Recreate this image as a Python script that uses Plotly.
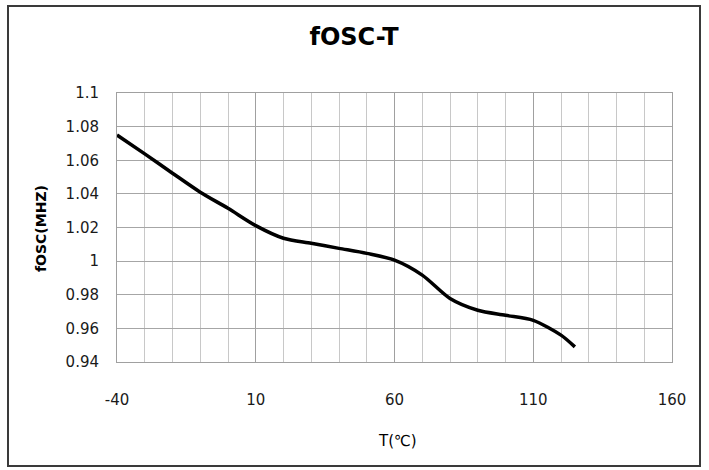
import plotly.graph_objects as go

# Data
temperature = [-40, -30, -20, -10, 0, 10, 20, 30, 40, 50, 60, 70, 80, 90, 100, 110, 120, 125]
fosc_mhz = [1.075, 1.0638, 1.0523, 1.041, 1.0314, 1.0211, 1.0136, 1.0106, 1.0076, 1.0046,
            1.0006, 0.9917, 0.9778, 0.9708, 0.9678, 0.9648, 0.956, 0.949]

x_tick_vals = [-40, 10, 60, 110, 160]
x_tick_text = ["-40", "10", "60", "110", "160"]
y_tick_vals = [0.94, 0.96, 0.98, 1.0, 1.02, 1.04, 1.06, 1.08, 1.1]
y_tick_text = ["0.94", "0.96", "0.98", "1", "1.02", "1.04", "1.06", "1.08", "1.1"]

W, H = 709, 470
L, R, T, B = 117, 37, 93, 108
pw, ph = W - L - R, H - T - B

def px_x(p):
    return (p - L) / pw

def px_y(p):
    return (H - B - p) / ph

fig = go.Figure()
fig.add_trace(go.Scatter(
    x=temperature, y=fosc_mhz, mode="lines",
    line=dict(color="black", width=3.5, shape="spline", smoothing=0.8),
    showlegend=False, hoverinfo="x+y",
))

tick_font = dict(family="DejaVu Sans", size=15, color="#1a1a1a")

fig.update_layout(
    width=W, height=H,
    margin=dict(l=L, r=R, t=T, b=B),
    paper_bgcolor="white", plot_bgcolor="white",
    title=dict(text="fOSC-T", x=354 / W, xref="container", xanchor="center",
               y=1 - 37 / H, yref="container", yanchor="middle",
               font=dict(family="DejaVu Sans", size=24, color="black", weight="bold")),
    xaxis=dict(range=[-40, 160], tickmode="array", tickvals=x_tick_vals, ticktext=x_tick_text,
               showgrid=True, gridcolor="#a0a0a0", gridwidth=1,
               minor=dict(tick0=-40, dtick=10, showgrid=True, gridcolor="#c8c8c8", gridwidth=1),
               showline=True, linecolor="#a0a0a0", linewidth=1, mirror=True,
               zeroline=False, ticks="", tickfont=tick_font, ticklabelstandoff=24),
    yaxis=dict(range=[0.94, 1.1], tickmode="array", tickvals=y_tick_vals, ticktext=y_tick_text,
               showgrid=True, gridcolor="#a6a6a6", gridwidth=1,
               showline=True, linecolor="#a0a0a0", linewidth=1, mirror=True,
               zeroline=False, ticks="", tickfont=tick_font, ticklabelstandoff=14),
    annotations=[
        dict(text="fOSC(MHZ)", xref="paper", yref="paper", x=px_x(41), y=px_y(229),
             xanchor="center", yanchor="middle", textangle=-90, showarrow=False,
             font=dict(family="DejaVu Sans", size=14, color="black", weight="bold")),
        dict(text="T(℃)", xref="paper", yref="paper", x=px_x(397), y=px_y(441),
             xanchor="center", yanchor="middle", showarrow=False,
             font=dict(family="DejaVu Sans", size=15, color="black")),
    ],
    shapes=[
        dict(type="rect", xref="paper", yref="paper",
             x0=px_x(8), x1=px_x(700), y0=px_y(466), y1=px_y(6),
             line=dict(color="#3a3a3a", width=2), fillcolor="rgba(0,0,0,0)", layer="below"),
    ],
)

fig.write_html("out.html", config={"displayModeBar": False},
               post_script="document.body.style.margin='0';")
